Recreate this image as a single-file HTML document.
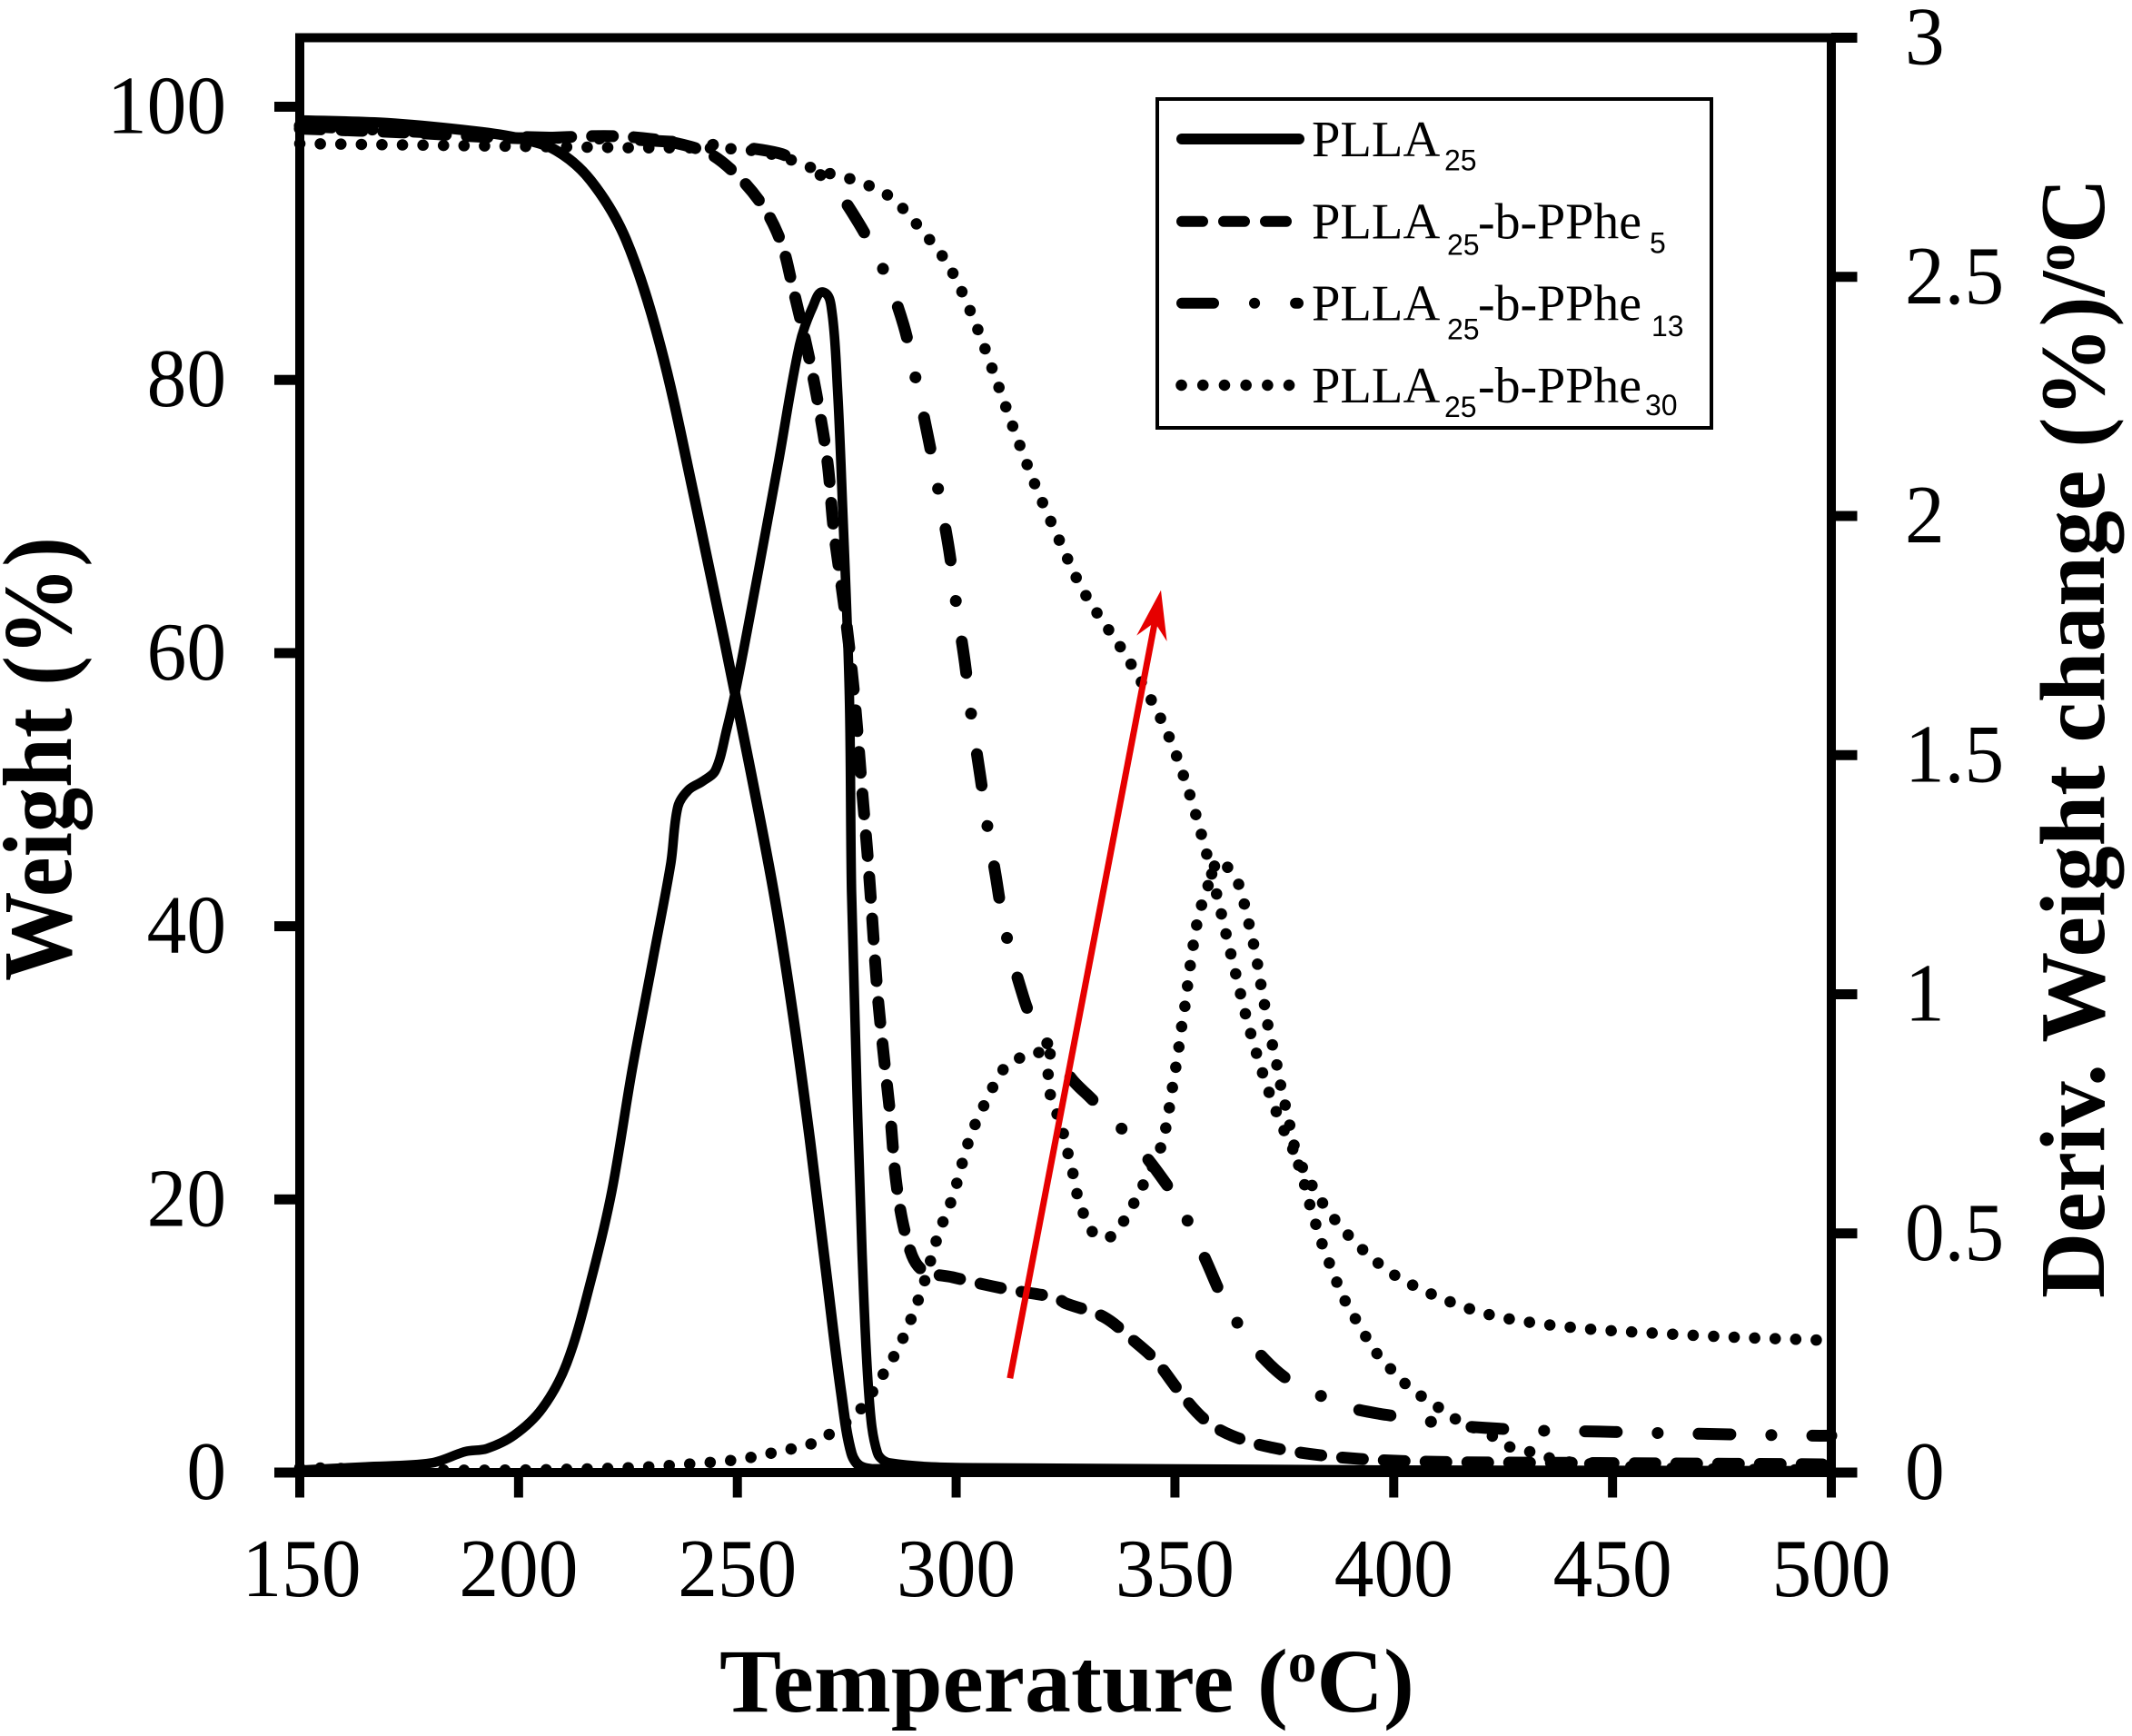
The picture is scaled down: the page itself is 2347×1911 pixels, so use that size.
<!DOCTYPE html>
<html>
<head>
<meta charset="utf-8">
<title>TGA and DTG curves</title>
<style>
html,body{margin:0;padding:0;background:#fff;}
svg{display:block;}
text{font-family:"Liberation Serif",serif;fill:#000;}
</style>
</head>
<body>
<svg id="chart" xmlns="http://www.w3.org/2000/svg" width="2347" height="1911" viewBox="0 0 2347 1911">
<rect width="2347" height="1911" fill="#fff"/>
<g id="curves"></g>
<g id="annot"></g>
<g id="axes"></g>
<g id="ticklabels"></g>

<text x="792" y="1884" font-size="100" font-weight="bold" textLength="765" lengthAdjust="spacingAndGlyphs">Temperature (<tspan dy="-33" font-size="62">o</tspan><tspan dy="33">C)</tspan></text>
<text transform="translate(78,1080) rotate(-90)" font-size="108" font-weight="bold" textLength="489" lengthAdjust="spacingAndGlyphs">Weight (%)</text>
<text transform="translate(2316,1429) rotate(-90)" font-size="102" font-weight="bold" textLength="1233" lengthAdjust="spacingAndGlyphs">Deriv. Weight change (%)/<tspan dy="-33" font-size="62">o</tspan><tspan dy="33">C</tspan></text>

<g>
<rect x="1274" y="109" width="610" height="362" fill="#fff" stroke="#000" stroke-width="4"/>
<g>
<line x1="1301" y1="153" x2="1430" y2="153" stroke="#000" stroke-width="12" stroke-linecap="round"/>
<text x="1444" y="172" font-size="56.5">PLLA</text>
<text x="1590" y="187.5" font-size="32" style="font-family:'Liberation Sans',sans-serif">25</text>
</g>
<g>
<line x1="1301" y1="243.7" x2="1418" y2="243.7" stroke="#000" stroke-width="12" stroke-linecap="round" stroke-dasharray="23 23"/>
<text x="1444" y="262.5" font-size="56.5">PLLA</text>
<text x="1593" y="280.5" font-size="32" style="font-family:'Liberation Sans',sans-serif">25</text>
<text x="1627" y="262.5" font-size="56.5" textLength="180" lengthAdjust="spacingAndGlyphs">-b-PPhe</text>
<text x="1816" y="278.5" font-size="32" style="font-family:'Liberation Sans',sans-serif">5</text>
</g>
<g>
<line x1="1301" y1="333.7" x2="1429" y2="333.7" stroke="#000" stroke-width="12" stroke-linecap="round" stroke-dasharray="35 45 0.1 45"/>
<text x="1444" y="352.5" font-size="56.5">PLLA</text>
<text x="1593" y="373.5" font-size="32" style="font-family:'Liberation Sans',sans-serif">25</text>
<text x="1627" y="352.5" font-size="56.5" textLength="180" lengthAdjust="spacingAndGlyphs">-b-PPhe</text>
<text x="1818" y="370" font-size="32" style="font-family:'Liberation Sans',sans-serif">13</text>
</g>
<g>
<line x1="1300.5" y1="424" x2="1425" y2="424" stroke="#000" stroke-width="12.5" stroke-linecap="round" stroke-dasharray="0.1 23.6"/>
<text x="1444" y="443" font-size="56.5">PLLA</text>
<text x="1590" y="459" font-size="32" style="font-family:'Liberation Sans',sans-serif">25</text>
<text x="1627" y="443" font-size="56.5" textLength="180" lengthAdjust="spacingAndGlyphs">-b-PPhe</text>
<text x="1811" y="457" font-size="32" style="font-family:'Liberation Sans',sans-serif">30</text>
</g>
</g>
</svg>
<script>
// Axis tick values and labels
const xTickValues = [150,200,250,300,350,400,450,500];
const weightTickValues = [0,20,40,60,80,100];
const derivTickValues = [0,0.5,1,1.5,2,2.5,3];

// Temperature (C) / value pairs
const plla25WeightT = [150,170,190,200,208.6,216.5,224.5,232.4,240.3,248.3,257.8,262.5,266.6,270.5,273.7,276.1,278.5,285,300,500];
const plla25WeightV = [99,98.8,98.2,97.7,96.8,94.6,90.3,82.5,71.2,58.9,43.4,34,24.3,14.1,5.9,1.4,0.4,0.25,0.2,0.1];

const plla25DerivT = [150,165,180,187.9,192.7,199,205.4,211,216.5,221.3,226,230.8,234.8,236.4,238.8,242,245,247.6,249.9,254.7,259.4,264.2,267.3,269.7,271.6,272.9,274,275.6,276.1,277.3,278.5,280.1,282,284.9,304,500];
const plla25DerivV = [0.005,0.012,0.02,0.044,0.05,0.078,0.134,0.228,0.40,0.588,0.844,1.077,1.274,1.392,1.427,1.445,1.468,1.555,1.648,1.88,2.113,2.357,2.439,2.468,2.427,2.264,2.032,1.626,1.216,0.809,0.459,0.158,0.041,0.02,0.01,0.002];

const pphe5WeightT = [150,175,200,225,242,249.9,256.3,260.2,262.5,265.8,268.1,270.6,272,274.6,276.6,278.5,280.1,282,283.5,284.9,286.4,288.9,292,299.2,311.9,322.9,325,333.7,340.8,345.6,351.1,356.7,363,372.6,388.3,407.4,447,500];
const pphe5WeightV = [98.4,98.1,97.7,97.8,96.8,95,92.5,89.9,87,82.5,78.9,74,69.1,63,57.3,50,43.8,35.2,30.4,26.3,21,16.9,14.9,14.3,13.4,12.8,12.4,11.4,9.6,8.2,5.9,3.9,2.7,1.8,1.1,0.8,0.7,0.6];

const pphe13WeightT = [150,175,200,225,245,259.4,265.8,271.3,277.7,283.6,288,290.9,293.6,296,298.4,300.1,302,303.6,305.5,307.4,309,310.3,312.1,315,317.1,326.2,330.5,336,341.6,345.6,350.3,354.3,357.4,360.9,365.4,369.6,375.4,382.8,388.3,396.7,405.8,412.1,431,447,459.7,495,500];
const pphe13WeightV = [98.6,98.2,97.8,97.6,97.2,96.6,95.6,94.4,91.5,87.9,84,79.9,75.8,71.8,67.5,63.4,59.3,55.1,51,46.8,43.8,41.2,38.5,35.2,33.4,28.9,27.5,25.8,23.8,22.2,20,17.5,15.3,12.8,10.4,8.6,6.9,5.7,4.9,4.3,3.9,3.5,3.1,3,2.9,2.7,2.7];

const pphe30WeightT = [150,175,200,225,250,259.4,269,276.9,284.9,292.8,298.4,303.8,308.6,313.4,318.2,323.8,329.3,339.2,347.5,352.4,356.4,359.8,362,364.2,366.5,369,372,375.4,379.2,383.6,388.7,394.7,401,412.1,424,441.5,459.7,478.7,496.9,500];
const pphe30WeightV = [97.3,97.2,97.1,97,96.9,96.4,95.3,94.6,93.4,90.7,88.3,84.6,80.5,76.2,72.2,68.1,64.4,59.6,54.7,50.6,46.3,42,39,36.1,33.1,30.3,27.4,24.7,22.3,19.8,17.7,15.8,14.3,12.6,11.4,10.6,10.2,9.9,9.7,9.6];

const pphe30DerivT = [150,190,225,242,250.7,259.4,268.1,277.7,282.4,287.2,292,296,299.2,303.1,306.7,311.1,314.6,318,321,321,321.8,323.4,324.7,325.8,326.9,327.8,329.4,331.7,335,337.7,340,342,344,346.1,347.5,348.4,349.1,349.9,350.7,351.3,352.1,352.7,353.3,354,354.8,355.7,357.2,358.4,360,361.1,363.8,365.4,366.5,367.5,368.6,369.3,370.2,370.9,371.9,373,373.8,374.9,375.7,376.9,377.6,379.2,380.4,381.7,383.1,384.7,386.3,388,390,392.3,394.4,397,399.7,402.6,405.8,409.3,412.5,416.1,420.4,423.6,426.7,430.9,435.1,439,460,500];
const pphe30DerivV = [0.01,0.005,0.01,0.02,0.028,0.044,0.065,0.128,0.192,0.268,0.378,0.5,0.576,0.699,0.774,0.847,0.867,0.872,0.891,0.82,0.78,0.741,0.702,0.657,0.617,0.576,0.535,0.498,0.492,0.518,0.553,0.588,0.625,0.663,0.704,0.745,0.786,0.832,0.875,0.919,0.963,1.005,1.047,1.092,1.137,1.175,1.216,1.251,1.282,1.274,1.246,1.204,1.164,1.123,1.079,1.036,0.995,0.951,0.908,0.867,0.824,0.782,0.744,0.704,0.663,0.617,0.573,0.534,0.492,0.452,0.414,0.376,0.34,0.306,0.272,0.239,0.213,0.186,0.163,0.142,0.122,0.101,0.087,0.07,0.053,0.044,0.032,0.023,0.01,0.005];

// Red arrow annotation, in data units (temperature, weight)
const arrowT = [312.3,346.8];
const arrowW = [6.9,64.6];

// Axis functions
function xScale(t){return 330+(t-150)*(2016-330)/350;}
function yWeight(w){return 1621-w*(1621-117.5)/100;}
function yDeriv(v){return 1621-v*(1621-41.5)/3;}

const NS='http://www.w3.org/2000/svg';
const curves=document.getElementById('curves');
const axes=document.getElementById('axes');
const annot=document.getElementById('annot');
const ticklabels=document.getElementById('ticklabels');

function buildPath(ts,vs,yf){
  const p=ts.map((t,i)=>[xScale(t),yf(vs[i])]);
  let d='M'+p[0][0].toFixed(1)+' '+p[0][1].toFixed(1);
  for(let i=0;i<p.length-1;i++){
    const a=p[Math.max(i-1,0)],b=p[i],c=p[i+1],e=p[Math.min(i+2,p.length-1)];
    const seg=Math.hypot(c[0]-b[0],c[1]-b[1]);
    const la=Math.hypot(c[0]-a[0],c[1]-a[1])||1,le=Math.hypot(e[0]-b[0],e[1]-b[1])||1;
    const k=seg/3;
    d+=' C'+(b[0]+(c[0]-a[0])/la*k).toFixed(1)+' '+(b[1]+(c[1]-a[1])/la*k).toFixed(1)+' '+(c[0]-(e[0]-b[0])/le*k).toFixed(1)+' '+(c[1]-(e[1]-b[1])/le*k).toFixed(1)+' '+c[0].toFixed(1)+' '+c[1].toFixed(1);
  }
  return d;
}
function addCurve(ts,vs,yf,width,dash){
  const el=document.createElementNS(NS,'path');
  el.setAttribute('d',buildPath(ts,vs,yf));
  el.setAttribute('fill','none');
  el.setAttribute('stroke','#000');
  el.setAttribute('stroke-width',width);
  el.setAttribute('stroke-linecap',dash?'round':'butt');
  el.setAttribute('stroke-linejoin','round');
  if(dash)el.setAttribute('stroke-dasharray',dash);
  curves.appendChild(el);
  return el;
}
let c;
c=addCurve(plla25WeightT,plla25WeightV,yWeight,11.5,null);


c=addCurve(plla25DerivT,plla25DerivV,yDeriv,10.5,null);


c=addCurve(pphe5WeightT,pphe5WeightV,yWeight,13,'23 23');


c=addCurve(pphe13WeightT,pphe13WeightV,yWeight,13,'35 45 0.1 45');


c=addCurve(pphe30WeightT,pphe30WeightV,yWeight,12.5,'0.1 22.5');


c=addCurve(pphe30DerivT,pphe30DerivV,yDeriv,12.5,'0.1 22.5');



// Red arrow
(function(){
  const x0=xScale(arrowT[0]),y0=yWeight(arrowW[0]),x1=xScale(arrowT[1]),y1=yWeight(arrowW[1]);
  const L=Math.hypot(x1-x0,y1-y0),ux=(x1-x0)/L,uy=(y1-y0)/L,nx=-uy,ny=ux;
  const shaft=document.createElementNS(NS,'line');
  shaft.setAttribute('x1',x0);
  shaft.setAttribute('y1',y0);
  shaft.setAttribute('x2',x1-ux*30);
  shaft.setAttribute('y2',y1-uy*30);
  shaft.setAttribute('stroke','#e60000');
  shaft.setAttribute('stroke-width','7');
  
  
  annot.appendChild(shaft);
  const head=document.createElementNS(NS,'polygon');
  const pts=[[x1,y1],[x1-ux*54+nx*17,y1-uy*54+ny*17],[x1-ux*36,y1-uy*36],[x1-ux*54-nx*17,y1-uy*54-ny*17]];
  head.setAttribute('points',pts.map(p=>p[0].toFixed(1)+','+p[1].toFixed(1)).join(' '));
  head.setAttribute('fill','#e60000');
  
  
  annot.appendChild(head);
})();

function addRect(x,y,w,h){
  const r=document.createElementNS(NS,'rect');
  r.setAttribute('x',x);
  r.setAttribute('y',y);
  r.setAttribute('width',w);
  r.setAttribute('height',h);
  r.setAttribute('fill','#000');
  axes.appendChild(r);
  return r;
}
const X0=xScale(150),X1=xScale(500),YB=yWeight(0),YT=yDeriv(3);
let s;
s=addRect(X0-5,YT-5,X1+28.5-(X0-5),10);


s=addRect(X0-28,YB-5,X1+28.5-(X0-28),10);


s=addRect(X0-5,YT-5,10,YB+27.5-(YT-5));


s=addRect(X1-5,YT,10,YB+27.5-YT);



function addTickLabel(str,x,y,anchor){
  const t=document.createElementNS(NS,'text');
  t.setAttribute('transform','translate('+x+','+y+') scale(0.96,1)');
  t.setAttribute('font-size','91');
  t.setAttribute('text-anchor',anchor);
  t.textContent=str;
  ticklabels.appendChild(t);
  return t;
}
xTickValues.forEach(v=>{
  const r=addRect(xScale(v)-5,YB,10,27.5);
  
  
  const t=addTickLabel(String(v),xScale(v)+(v===150?2:0),1757,'middle');
  
  
});
weightTickValues.forEach(v=>{
  const r=addRect(X0-28,yWeight(v)-5.5,28,11);
  
  
  const t=addTickLabel(String(v),249,yWeight(v)+29,'end');
  
  
});
derivTickValues.forEach(v=>{
  const r=addRect(X1,yDeriv(v)-5.5,28.5,11);
  
  
  const t=addTickLabel(String(v),2097,yDeriv(v)+29,'start');
  
  
});
</script>
</body>
</html>
